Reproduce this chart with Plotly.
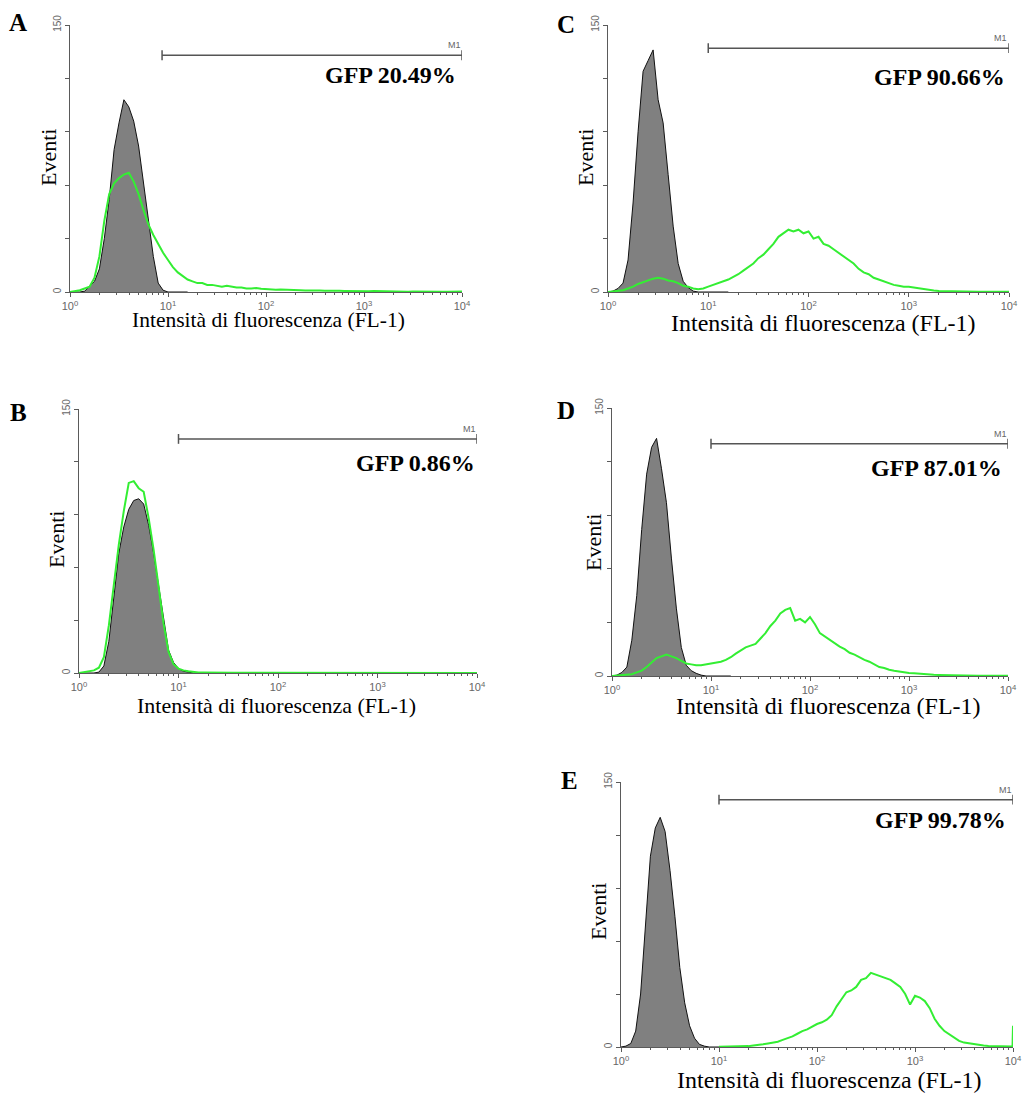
import plotly.graph_objects as go

# the page body adds an 8 px margin, so the figure is drawn 8 px in from the window corner
OFF = 8
W, H = 1030 - OFF, 1093 - OFF

# ---------------- data ----------------
# channel positions (log10 of FL-1 intensity), 0.05-decade steps
LOG_CH = [0.00, 0.05, 0.10, 0.15, 0.20, 0.25, 0.30, 0.35, 0.40, 0.45,
          0.50, 0.55, 0.60, 0.65, 0.70, 0.75, 0.80, 0.85, 0.90, 0.95,
          1.00, 1.05, 1.10, 1.15, 1.20, 1.25, 1.30, 1.35, 1.40, 1.45,
          1.50, 1.55, 1.60, 1.65, 1.70, 1.75, 1.80, 1.85, 1.90, 1.95,
          2.00, 2.05, 2.10, 2.15, 2.20, 2.25, 2.30, 2.35, 2.40, 2.45,
          2.50, 2.55, 2.60, 2.65, 2.70, 2.75, 2.80, 2.85, 2.90, 2.95,
          3.00, 3.05, 3.10, 3.15, 3.20, 3.25, 3.30, 3.35, 3.40, 3.45,
          3.50, 3.55, 3.60, 3.65, 3.70, 3.75, 3.80, 3.85, 3.90, 3.95,
          4.00]

PANELS = ["A", "B", "C", "D", "E"]

# control (grey, filled) histograms, channels 0.00 .. 1.20
A_GREY = [0, 0, 0, 0.5, 3, 6, 13, 30, 52, 80, 95, 108, 104, 96, 82, 62, 42, 20, 5, 1, 0, 0, 0, 0, 0]
B_GREY = [0, 0, 0, 0, 0.5, 4, 18, 44, 68, 83, 93, 98, 99, 96, 84, 68, 50, 32, 13, 6, 2.5, 1, 0.3, 0, 0]
C_GREY = [0, 0.5, 2, 5, 18, 50, 90, 124, 130, 136, 108, 95, 66, 37, 16, 6, 2.5, 0.5, 0, 0, 0, 0, 0, 0, 0]
D_GREY = [0, 0.5, 2, 5, 20, 45, 82, 113, 128, 133, 116, 97, 66, 38, 16, 6, 3, 1.5, 0.5, 0, 0, 0, 0, 0, 0]
E_GREY = [0, 0.5, 2, 9, 30, 72, 108, 124, 130, 122, 100, 74, 45, 25, 12, 5, 1.5, 0.5, 0, 0, 0, 0, 0, 0, 0]

# GFP (green line) histograms, channels 0.00 .. 4.00
A_GREEN = [0, 0.5, 1, 2, 3, 8, 20, 40, 55, 61,
           64, 66, 67, 62, 55, 46, 38, 32, 27, 22,
           18, 14, 11, 9, 7, 6, 5, 5, 4, 4,
           3.5, 3, 3.5, 3, 2.5, 2.5, 2, 2, 2.2, 1.8,
           1.5, 1.5, 1.2, 1.4, 1.2, 1.0, 1.2, 1.0, 0.9, 1.0,
           0.8, 0.8, 0.7, 0.8, 0.6, 0.7, 0.6, 0.5, 0.6, 0.5,
           0.5, 0.4, 0.5, 0.4, 0.3, 0.4, 0.3, 0.3, 0.3, 0.2,
           0.3, 0.2, 0.2, 0.3, 0.2, 0.2, 0.1, 0.2, 0.1, 0.2, 0.3]
B_GREEN = [0, 0.5, 1, 1.5, 3, 9, 27, 51, 73, 92,
           108, 109, 105, 103, 88, 70, 50, 28, 12, 5,
           2.5, 1.5, 1, 0.5, 0.3, 0.3, 0.2, 0.2, 0.2, 0.1,
           0.1, 0.1, 0.1, 0.1, 0.1, 0, 0, 0, 0, 0,
           0, 0, 0, 0, 0, 0, 0, 0, 0, 0,
           0, 0, 0, 0, 0, 0, 0, 0, 0, 0,
           0, 0, 0, 0, 0, 0, 0, 0, 0, 0,
           0, 0, 0, 0, 0, 0, 0, 0, 0, 0, 0]
C_GREEN = [0, 0.3, 0.5, 1, 2, 3, 4.5, 5.5, 6.5, 7.5,
           8, 7.5, 6.5, 6, 5, 3.5, 3, 2, 1.5, 2,
           3, 4, 5, 6, 7, 8.5, 10, 12, 14, 16,
           19, 21, 24, 27, 31, 33, 35, 34, 35, 33,
           34, 30, 31, 27, 26, 24, 22, 20, 18, 16,
           13, 11, 10, 8, 7, 6, 5, 4, 3.5, 3,
           3, 2.5, 2, 1.5, 1, 0.8, 0.6, 0.5, 0.4, 0.4,
           0.3, 0.3, 0.3, 0.2, 0.2, 0.2, 0.2, 0.1, 0.1, 0.1, 0.2]
D_GREEN = [0, 0.2, 0.4, 0.6, 1, 2, 3, 5, 7.5, 10,
           11, 12, 11, 10, 8.5, 7, 6.5, 6, 6, 6.5,
           7, 7.5, 8, 9, 10.5, 12.5, 14.5, 16, 17, 18,
           21, 24, 28, 31, 35, 37, 38, 31, 32, 30,
           33, 29, 24, 22, 20, 18, 16.5, 15, 13, 12,
           10.5, 9, 8, 6.5, 5, 4.5, 3.5, 3, 2.5, 2,
           1.7, 1.5, 1.2, 1, 0.8, 0.7, 0.6, 0.5, 0.5, 0.4,
           0.4, 0.3, 0.3, 0.3, 0.2, 0.2, 0.2, 0.2, 0.1, 0.1, 0.1]
# panel E green starts at channel 1.00 and has an extra last-channel spike
E_GREEN_LOG = LOG_CH[20:80] + [3.995, 4.00]
E_GREEN = [0.1, 0.1, 0.2, 0.2, 0.3, 0.4, 0.5, 0.8, 1, 1.5,
           2, 2.5, 3, 4, 5, 6, 7.5, 9, 10, 11.5,
           13, 14, 15.5, 18, 23, 27, 31, 32, 34, 38,
           39, 42, 41, 40, 39, 38, 36, 34, 30, 24,
           29, 28, 26, 22, 16, 12, 9, 7, 5, 3.5,
           2.5, 2, 1.5, 1, 0.8, 0.6, 0.5, 0.4, 0.3, 0.3,
           0.3, 12]

GREYS = [A_GREY, B_GREY, C_GREY, D_GREY, E_GREY]
GREENS = [A_GREEN, B_GREEN, C_GREEN, D_GREEN, E_GREEN]
GREEN_LOGS = [LOG_CH, LOG_CH, LOG_CH, LOG_CH, E_GREEN_LOG]

GFP_LABELS = ["GFP 20.49%", "GFP 0.86%", "GFP 90.66%", "GFP 87.01%", "GFP 99.78%"]
M1_START = [8.7, 10, 10, 10, 10]
M1_END = [10000, 10000, 10000, 10000, 10000]
M1_LEVEL = [133, 133, 137, 130, 140]

X_TICKS = [1, 10, 100, 1000, 10000]
X_TICK_TEXT = ["10<sup>0</sup>", "10<sup>1</sup>", "10<sup>2</sup>", "10<sup>3</sup>", "10<sup>4</sup>"]
Y_TICKS = [0, 30, 60, 90, 120, 150]
Y_TICK_TEXT = ["0", "", "", "", "", "150"]

# ---------------- layout (window pixels) ----------------
BOX = {"A": (70, 462, 25, 292), "B": (79, 477, 409, 673), "C": (608, 1009, 25, 292),
       "D": (612, 1008, 408, 676), "E": (621, 1013, 782, 1047)}
LETTER_POS = {"A": (18, 22), "B": (18, 412), "C": (566, 25), "D": (566, 410), "E": (569, 780)}
EVENTI_POS = {"A": (48, 158), "B": (57, 540), "C": (585, 158), "D": (593, 543), "E": (598, 912)}
XTITLE_POS = {"A": (268, 320), "B": (276, 706), "C": (823, 323), "D": (828, 706), "E": (829, 1080)}
XTITLE_SIZE = {"A": 21.5, "B": 22, "C": 24, "D": 24, "E": 24}
GFP_POS = {"A": (0.99, 0.813), "B": (1.0, 0.795), "C": (0.995, 0.805), "D": (0.99, 0.776), "E": (0.987, 0.857)}

SERIF = "Liberation Serif, Times New Roman, serif"
SANS = "Liberation Sans, Arial, sans-serif"
AX_COL = "#5a5a5a"
GREEN = "#33ee33"

MINOR = [m * 10 ** d for d in range(4) for m in range(2, 10)]

fig = go.Figure()
annotations = []
layout_axes = {}

def px(x):
    return (x - OFF) / W

def py(y):
    return 1 - (y - OFF) / H

for k, p in enumerate(PANELS):
    sfx = "" if k == 0 else str(k + 1)
    xref, yref = "x" + sfx, "y" + sfx
    x0, x1, y0, y1 = BOX[p]

    grey = GREYS[k]
    fig.add_trace(go.Scatter(
        x=[10 ** v for v in LOG_CH[:len(grey)]], y=grey, mode="lines",
        fill="tozeroy", fillcolor="#808080", line=dict(color="#111111", width=1),
        xaxis=xref, yaxis=yref, hoverinfo="skip"))
    fig.add_trace(go.Scatter(
        x=[10 ** v for v in GREEN_LOGS[k]], y=GREENS[k], mode="lines",
        line=dict(color=GREEN, width=2), xaxis=xref, yaxis=yref, hoverinfo="skip"))
    fig.add_trace(go.Scatter(
        x=[M1_START[k], M1_END[k]], y=[M1_LEVEL[k], M1_LEVEL[k]], mode="lines+markers",
        line=dict(color="#555555", width=1.5),
        marker=dict(symbol="line-ns-open", size=7, line=dict(color="#555555", width=1.5)),
        xaxis=xref, yaxis=yref, hoverinfo="skip"))

    layout_axes["xaxis" + sfx] = dict(
        domain=[px(x0), px(x1)], anchor=yref, type="log", range=[0, 4], automargin=False,
        tickmode="array", tickvals=X_TICKS, ticktext=X_TICK_TEXT,
        ticks="outside", ticklen=4, tickcolor=AX_COL, tickwidth=1,
        showline=True, linecolor=AX_COL, linewidth=1.2,
        showgrid=False, zeroline=False,
        tickfont=dict(family=SANS, size=11, color="#666666"),
        minor=dict(ticks="outside", ticklen=2, tickcolor=AX_COL, tickmode="array",
                   tickvals=MINOR, showgrid=False))
    layout_axes["yaxis" + sfx] = dict(
        domain=[py(y1), py(y0)], anchor=xref, range=[0, 150], automargin=False,
        tickmode="array", tickvals=Y_TICKS, ticktext=Y_TICK_TEXT, tickangle=-90,
        ticks="outside", ticklen=4, tickcolor=AX_COL, tickwidth=1,
        showline=True, linecolor=AX_COL, linewidth=1.2,
        showgrid=False, zeroline=False,
        tickfont=dict(family=SANS, size=10, color="#666666"))

    # panel letter
    lx, ly = LETTER_POS[p]
    annotations.append(dict(text="<b>" + p + "</b>", x=px(lx), y=py(ly), xref="paper", yref="paper",
                            showarrow=False, xanchor="center", yanchor="middle",
                            font=dict(family=SERIF, size=25, color="black")))
    # y title
    ex, ey = EVENTI_POS[p]
    annotations.append(dict(text="Eventi", x=px(ex), y=py(ey), xref="paper", yref="paper",
                            showarrow=False, textangle=-90, xanchor="center", yanchor="middle",
                            font=dict(family=SERIF, size=22, color="black")))
    # x title
    tx, ty = XTITLE_POS[p]
    annotations.append(dict(text="Intensità di fluorescenza (FL-1)", x=px(tx), y=py(ty),
                            xref="paper", yref="paper", showarrow=False,
                            xanchor="center", yanchor="middle",
                            font=dict(family=SERIF, size=XTITLE_SIZE[p], color="black")))
    # GFP label
    gx, gy = GFP_POS[p]
    annotations.append(dict(text="<b>" + GFP_LABELS[k] + "</b>", x=gx, y=gy,
                            xref=xref + " domain", yref=yref + " domain", showarrow=False,
                            xanchor="right", yanchor="middle",
                            font=dict(family=SERIF, size=24, color="black")))
    # M1 label
    annotations.append(dict(text="M1", x=0.98, y=M1_LEVEL[k], xref=xref + " domain", yref=yref,
                            showarrow=False, xanchor="center", yanchor="bottom", yshift=3,
                            font=dict(family=SANS, size=9, color="#666666")))

fig.update_layout(
    width=W, height=H, autosize=False,
    margin=dict(l=0, r=0, t=0, b=0),
    paper_bgcolor="white", plot_bgcolor="white",
    showlegend=False,
    annotations=annotations,
    **layout_axes)

fig.write_html("out.html")
